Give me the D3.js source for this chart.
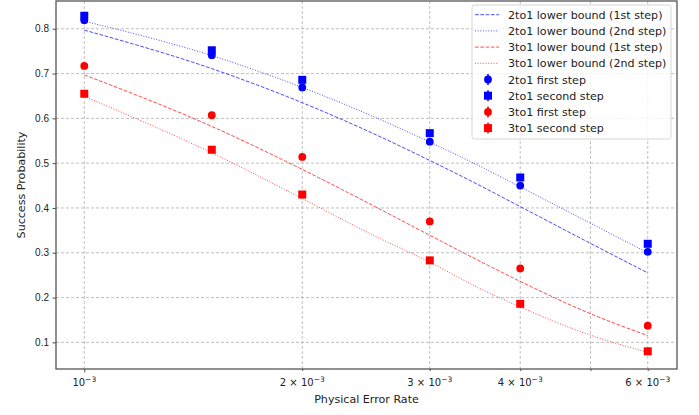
<!DOCTYPE html>
<html>
<head>
<meta charset="UTF-8">
<title></title>
<style>
    body { margin: 0; background: #fff; }
    svg { font-family: 'DejaVu Sans', sans-serif; }
    .grid line { stroke: #b0b0b0; stroke-dasharray: 3,2; stroke-width: 0.8; }
    .tick text { font-size: 10px; fill: #222; }
</style>
</head>
<body>
<script src="https://d3js.org/d3.v7.min.js"></script>
<script>
    /// data

    var errorRates = [0.001, 0.0015, 0.002, 0.003, 0.004, 0.006];
    var twoFirst = [0.819, 0.741, 0.669, 0.548, 0.450, 0.302];
    var twoSecond = [0.829, 0.752, 0.686, 0.567, 0.468, 0.320];
    var threeFirst = [0.717, 0.607, 0.514, 0.370, 0.265, 0.137];
    var threeSecond = [0.655, 0.530, 0.430, 0.283, 0.186, 0.080];

    var boundRates = [0.001, 0.0015, 0.002, 0.0025, 0.003, 0.0035, 0.004, 0.005, 0.006];
    var twoBound1 = [0.797, 0.711, 0.635, 0.567, 0.506, 0.452, 0.403, 0.321, 0.255];
    var twoBound2 = [0.817, 0.740, 0.669, 0.605, 0.547, 0.495, 0.447, 0.366, 0.300];
    var threeBound1 = [0.697, 0.582, 0.486, 0.406, 0.339, 0.283, 0.236, 0.164, 0.115];
    var threeBound2 = [0.649, 0.523, 0.421, 0.340, 0.279, 0.222, 0.179, 0.116, 0.078];

    var yTicks = [0.1, 0.2, 0.3, 0.4, 0.5, 0.6, 0.7, 0.8];
    var xMajor = [0.001];
    var xMinor = [0.002, 0.003, 0.004, 0.005, 0.006];
    var xMinorLabels = {"0.002": "2", "0.003": "3", "0.004": "4", "0.006": "6"};

    var boundSeries = [
        {name: "2to1 lower bound (1st step)", color: "#0000ff", dash: "3.7,1.6", values: twoBound1},
        {name: "2to1 lower bound (2nd step)", color: "#0000ff", dash: "1,1.65", values: twoBound2},
        {name: "3to1 lower bound (1st step)", color: "#ff0000", dash: "3.7,1.6", values: threeBound1},
        {name: "3to1 lower bound (2nd step)", color: "#ff0000", dash: "1,1.65", values: threeBound2}
    ];
    var pointSeries = [
        {name: "2to1 first step", color: "#0000ff", shape: "circle", values: twoFirst},
        {name: "2to1 second step", color: "#0000ff", shape: "square", values: twoSecond},
        {name: "3to1 first step", color: "#ff0000", shape: "circle", values: threeFirst},
        {name: "3to1 second step", color: "#ff0000", shape: "square", values: threeSecond}
    ];

    /// layout

    var width = 699, height = 415;
    var margin = {top: 1, right: 22, bottom: 46, left: 56};
    var plotW = width - margin.left - margin.right,
        plotH = height - margin.top - margin.bottom;
    var labelSize = 11.1;

    var svg = d3.select("body").append("svg")
        .attr("width", width)
        .attr("height", height);

    var x = d3.scaleLog().domain([0.000914, 0.006585]).range([0, plotW]);
    var y = d3.scaleLinear().domain([0.0405, 0.862]).range([plotH, 0]);

    var g = svg.append("g")
        .attr("transform", "translate(" + margin.left + "," + margin.top + ")");

    // grid
    var grid = g.append("g").attr("class", "grid");
    grid.selectAll(".gy").data(yTicks).enter().append("line")
        .attr("x1", 0).attr("x2", plotW)
        .attr("y1", function(d) { return y(d); })
        .attr("y2", function(d) { return y(d); });
    grid.selectAll(".gx").data(xMajor.concat(xMinor)).enter().append("line")
        .attr("y1", 0).attr("y2", plotH)
        .attr("x1", function(d) { return x(d); })
        .attr("x2", function(d) { return x(d); });

    // axes
    var yAxis = d3.axisLeft(y).tickValues(yTicks).tickSize(3.5).tickPadding(3.5)
        .tickFormat(d3.format(".1f"));
    g.append("g").call(yAxis).call(function(a) {
        a.select(".domain").remove();
        a.selectAll(".tick line").attr("stroke", "#222").attr("stroke-width", 0.8);
    });

    var xAxisMajor = d3.axisBottom(x).tickValues(xMajor).tickSize(3.5).tickPadding(3.5).tickFormat("");
    var xAxisMinor = d3.axisBottom(x).tickValues(xMinor).tickSize(2).tickPadding(5).tickFormat("");
    [xAxisMajor, xAxisMinor].forEach(function(ax) {
        g.append("g").attr("transform", "translate(0," + plotH + ")").call(ax).call(function(a) {
            a.select(".domain").remove();
            a.selectAll(".tick line").attr("stroke", "#222").attr("stroke-width", 0.8);
        });
    });

    // x tick labels with superscripts
    var xLabels = g.append("g").attr("font-size", 10).attr("fill", "#222");
    xMajor.concat(xMinor).forEach(function(d) {
        var pre = d === 0.001 ? "" : xMinorLabels[String(d)];
        if (pre === undefined) return;
        var t = xLabels.append("text")
            .attr("x", x(d)).attr("y", plotH + 17)
            .attr("text-anchor", "middle");
        t.append("tspan").text((pre ? pre + " \u00d7 " : "") + "10");
        t.append("tspan").attr("dy", -4.5).attr("font-size", 7.5).text("\u22123");
    });

    // frame
    g.append("rect")
        .attr("width", plotW).attr("height", plotH)
        .attr("fill", "none").attr("stroke", "#555").attr("stroke-width", 1.3);

    // lower bound curves
    var line = d3.line()
        .x(function(d, i) { return x(boundRates[i]); })
        .y(function(d) { return y(d); })
        .curve(d3.curveMonotoneX);

    g.selectAll(".bound").data(boundSeries).enter().append("path")
        .attr("class", "bound")
        .attr("d", function(s) { return line(s.values); })
        .attr("fill", "none")
        .attr("stroke", function(s) { return s.color; })
        .attr("stroke-opacity", 0.7)
        .attr("stroke-width", 1)
        .attr("stroke-dasharray", function(s) { return s.dash; });

    // markers
    function drawMarker(sel, shape, color, cx, cy) {
        if (shape === "circle") {
            sel.append("circle").attr("cx", cx).attr("cy", cy).attr("r", 3.9).attr("fill", color);
        } else {
            sel.append("rect").attr("x", cx - 4).attr("y", cy - 4)
                .attr("width", 8).attr("height", 8).attr("fill", color);
        }
    }

    pointSeries.forEach(function(s) {
        var ms = g.append("g");
        s.values.forEach(function(v, i) {
            drawMarker(ms, s.shape, s.color, x(errorRates[i]), y(v));
        });
    });

    // axis titles
    svg.append("text")
        .attr("x", margin.left + plotW / 2).attr("y", 403)
        .attr("text-anchor", "middle").attr("font-size", labelSize).attr("fill", "#222")
        .text("Physical Error Rate");
    svg.append("text")
        .attr("transform", "translate(24.5," + (margin.top + plotH / 2) + ") rotate(-90)")
        .attr("text-anchor", "middle").attr("font-size", labelSize).attr("fill", "#222")
        .text("Success Probability");

    // legend
    var legend = svg.append("g").attr("transform", "translate(472,5)");
    legend.append("rect")
        .attr("width", 199).attr("height", 134).attr("rx", 2.5)
        .attr("fill", "#fff").attr("fill-opacity", 0.8)
        .attr("stroke", "#cccccc").attr("stroke-width", 0.8);

    var rowH = 16.2;
    boundSeries.forEach(function(s, i) {
        var ry = 9.7 + i * rowH;
        legend.append("line")
            .attr("x1", 3).attr("x2", 27).attr("y1", ry).attr("y2", ry)
            .attr("stroke", s.color).attr("stroke-opacity", 0.7)
            .attr("stroke-dasharray", s.dash).attr("stroke-width", 1);
        legend.append("text").attr("x", 36).attr("y", ry + 4)
            .attr("font-size", labelSize).attr("fill", "#222").text(s.name);
    });
    pointSeries.forEach(function(s, i) {
        var ry = 9.7 + (i + 4) * rowH;
        var mg = legend.append("g");
        mg.append("line").attr("x1", 16).attr("x2", 16).attr("y1", ry - 5.5).attr("y2", ry + 5.5)
            .attr("stroke", s.color).attr("stroke-width", 1.5);
        drawMarker(mg, s.shape, s.color, 16, ry);
        legend.append("text").attr("x", 36).attr("y", ry + 4)
            .attr("font-size", labelSize).attr("fill", "#222").text(s.name);
    });
</script>
</body>
</html>
